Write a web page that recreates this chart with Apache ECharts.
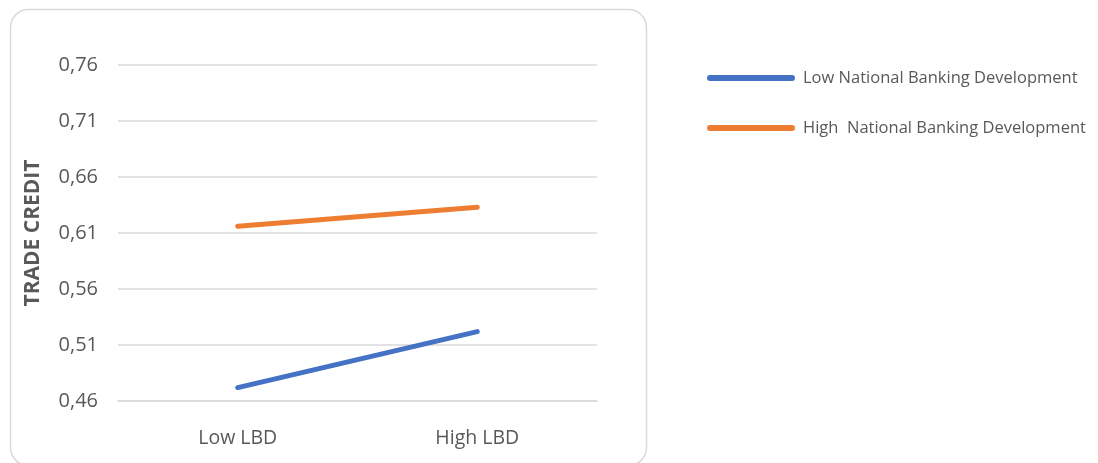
<!DOCTYPE html>
<html>
<head>
<meta charset="utf-8">
<script src="https://cdn.jsdelivr.net/npm/echarts@6/dist/echarts.min.js"></script>
<style>
  html, body { margin: 0; padding: 0; background: #ffffff; }
  #chart { width: 1098px; height: 463px; }
</style>
</head>
<body>
<div id="chart"></div>
<script>
// Categories on the x axis (local banking development)
const categories = ['Low LBD', 'High LBD'];

// Trade credit by national banking development level
const seriesNames = ['Low National Banking Development', 'High  National Banking Development'];
const lowNBD = [0.472, 0.522];
const highNBD = [0.616, 0.633];

// Value axis range
const yMin = 0.46;
const yMax = 0.76;
const yStep = 0.05;

const textColor = '#595959';
const font = 'Open Sans';

const chart = echarts.init(document.getElementById('chart'), null, { renderer: 'canvas' });

// Rounded bar used as the legend swatch
const legendIcon = 'path://M3,0 L85,0 A3,3 0 0 1 85,6 L3,6 A3,3 0 0 1 3,0 Z';

function legendFor(name, top) {
  return {
    data: [name],
    left: 702,
    top: top,
    orient: 'vertical',
    icon: legendIcon,
    itemWidth: 88,
    itemHeight: 6,
    selectedMode: false,
    textStyle: {
      color: textColor,
      fontFamily: font,
      fontSize: 16.5,
      lineHeight: 20,
      padding: [0, 0, 0, 3]
    }
  };
}

chart.setOption({
  animation: false,
  backgroundColor: '#ffffff',
  graphic: [{
    type: 'rect',
    z: -10,
    shape: { x: 10.5, y: 9.5, width: 636, height: 456, r: 18 },
    style: { fill: '#ffffff', stroke: '#d9d9d9', lineWidth: 1.5 }
  }],
  grid: { left: 118, right: 501, top: 65, bottom: 62 },
  legend: [legendFor(seriesNames[0], 63), legendFor(seriesNames[1], 113)],
  xAxis: {
    type: 'category',
    data: categories,
    boundaryGap: true,
    axisLine: { show: true, lineStyle: { color: '#d9d9d9', width: 1.5 } },
    axisTick: { show: false },
    axisLabel: { color: textColor, fontFamily: font, fontSize: 19.5, margin: 27 },
    splitLine: { show: false }
  },
  yAxis: {
    type: 'value',
    min: yMin,
    max: yMax,
    interval: yStep,
    name: 'TRADE CREDIT',
    nameLocation: 'middle',
    nameGap: 74,
    nameTextStyle: { color: textColor, fontFamily: font, fontSize: 21, fontWeight: 'bold' },
    axisLine: { show: false },
    axisTick: { show: false },
    axisLabel: {
      color: textColor,
      fontFamily: font,
      fontSize: 20,
      margin: 20,
      formatter: v => v.toFixed(2).replace('.', ',')
    },
    splitLine: { lineStyle: { color: '#d9d9d9', width: 1.5 } }
  },
  series: [
    {
      name: seriesNames[0],
      type: 'line',
      data: lowNBD,
      showSymbol: false,
      symbol: 'none',
      color: '#4472C4',
      lineStyle: { width: 5, cap: 'round', color: '#4472C4' }
    },
    {
      name: seriesNames[1],
      type: 'line',
      data: highNBD,
      showSymbol: false,
      symbol: 'none',
      color: '#ED7D31',
      lineStyle: { width: 5, cap: 'round', color: '#ED7D31' }
    }
  ]
});
</script>
</body>
</html>
